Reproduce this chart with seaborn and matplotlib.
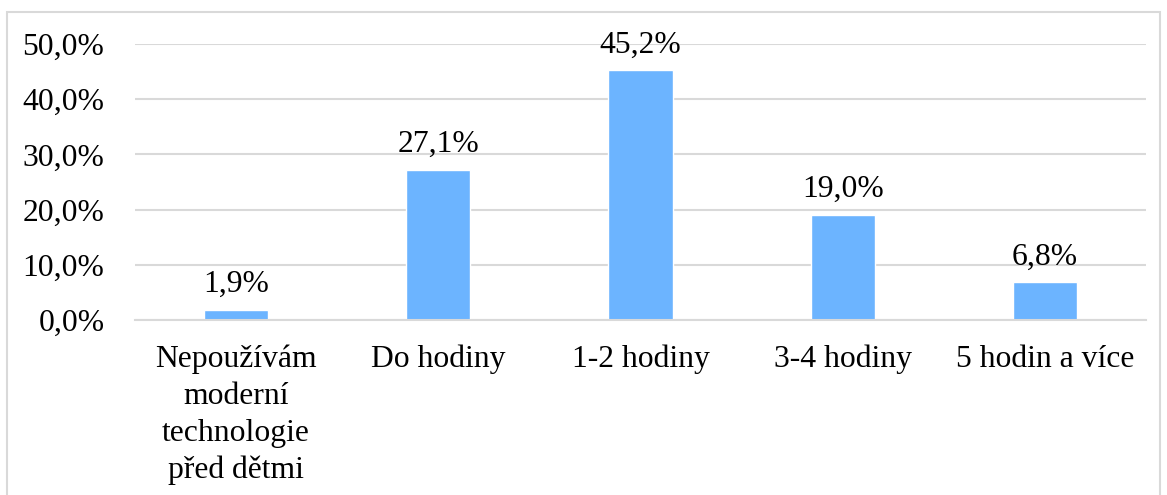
import matplotlib
matplotlib.use("Agg")
import matplotlib.pyplot as plt
import seaborn as sns
from matplotlib.patches import Rectangle
from matplotlib.ticker import FuncFormatter

CATEGORIES = [
    "Nepoužívám\nmoderní\ntechnologie\npřed dětmi",
    "Do hodiny",
    "1-2 hodiny",
    "3-4 hodiny",
    "5 hodin a více",
]
VALUES = [1.9, 27.1, 45.2, 19.0, 6.8]

BAR_COLOR = "#6CB4FF"
GRID_COLOR = "#D9D9D9"
FS = 22.8

sns.set_style("white")
plt.rcParams["font.family"] = ["Liberation Serif", "DejaVu Serif"]
plt.rcParams["text.color"] = "black"

fig = plt.figure(figsize=(11.67, 4.95), dpi=100)
ax = fig.add_axes([135 / 1167, 1 - 320 / 495, (1146 - 135) / 1167, (320 - 44) / 495])

sns.barplot(x=CATEGORIES, y=VALUES, color=BAR_COLOR, width=0.317, ax=ax, saturation=1)

ax.set_ylim(0, 50)
ax.set_yticks([0, 10, 20, 30, 40, 50])
ax.yaxis.set_major_formatter(FuncFormatter(lambda v, _: f"{v:.1f}%".replace(".", ",")))
ax.grid(axis="y", color=GRID_COLOR, linewidth=1.5)
ax.set_axisbelow(True)
for side in ["top", "right", "left"]:
    ax.spines[side].set_visible(False)
ax.spines["bottom"].set_color(GRID_COLOR)
ax.spines["bottom"].set_linewidth(1.5)
ax.tick_params(axis="both", length=0, labelsize=FS, colors="black")
ax.tick_params(axis="y", pad=22)
ax.tick_params(axis="x", pad=18)
for lbl in ax.get_xticklabels():
    lbl.set_linespacing(1.35)

for i, v in enumerate(VALUES):
    ax.annotate(f"{v:.1f}%".replace(".", ","), (i, v), xytext=(0, 8),
                textcoords="offset points", ha="center", va="bottom",
                fontsize=FS, color="black")

ax.set_xlabel("")
ax.set_ylabel("")

# outer frame of the chart
fig.patches.append(Rectangle((7 / 1167, -0.1), (1160 - 7) / 1167, 1 - 12 / 495 + 0.1,
                             transform=fig.transFigure, fill=False,
                             edgecolor=GRID_COLOR, linewidth=1.5))

fig.savefig("out.png", dpi=100)
